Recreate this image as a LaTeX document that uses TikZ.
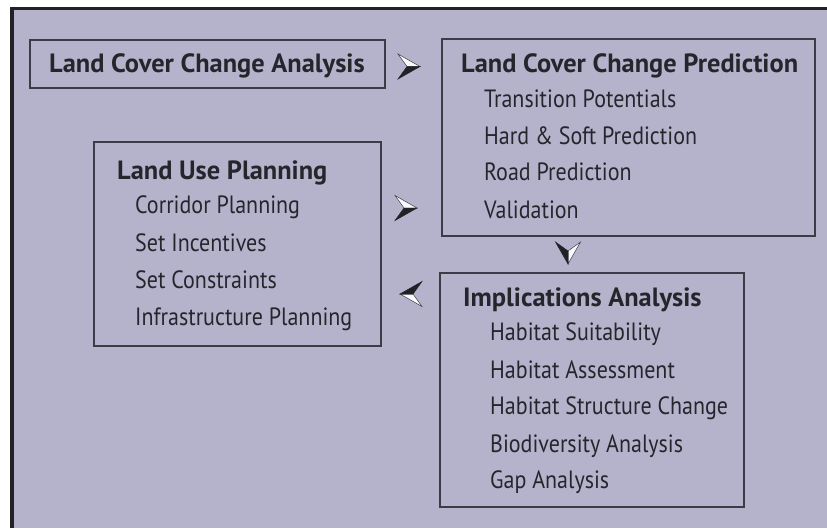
\documentclass[tikz,border=0pt]{standalone}
\usepackage{fontspec}
\setmainfont{PT Sans}
\newfontfamily\itemfont{PT Sans}[FakeStretch=0.88]
\usetikzlibrary{calc}
\definecolor{bg}{HTML}{B5B3CC}
\definecolor{boxline}{HTML}{3C3B46}
\definecolor{frame}{HTML}{222226}
\definecolor{txt}{HTML}{26252C}
\begin{document}
\begin{tikzpicture}[x=1pt,y=-1pt,
  box/.style={draw=boxline, line width=2pt, inner sep=0pt, outer sep=0pt, anchor=north west},
  ttl/.style={anchor=base west, inner sep=0pt, font=\fontsize{26.4}{30}\selectfont\bfseries, text=txt},
  itm/.style={anchor=base west, inner sep=0pt, font=\itemfont\fontsize{25}{28}\selectfont, text=txt},
  arrowhd/.pic={
    \filldraw[fill=white!92!bg, draw=boxline, line width=0.5pt] (11,0) -- (-11,-12.5) -- (-2,0) -- cycle;
    \filldraw[fill=frame, draw=frame, line width=0.5pt] (11,0) -- (-11,12.5) -- (-2,0) -- cycle;
  }]
\useasboundingbox (0,0) rectangle (827,528);
\fill[bg] (12,8.5) rectangle (827,528);
\draw[frame, line width=3.5pt] (12,528) -- (12,8.5) -- (827,8.5);

\node[box, minimum width=355pt, minimum height=48pt] (lcca) at (30,40) {};
\node[box, minimum width=373pt, minimum height=197pt] (lccp) at (442,39) {};
\node[box, minimum width=287pt, minimum height=204pt] (lup) at (94,142) {};
\node[box, minimum width=304pt, minimum height=234pt] (impl) at (440,273) {};

\node[ttl] (t1) at (49,72) {Land Cover Change Analysis};

\node[ttl] (t2) at (461,72) {Land Cover Change Prediction};
\node[itm] (p1) at (484,107) {Transition Potentials};
\node[itm] (p2) at (484,144) {Hard \& Soft Prediction};
\node[itm] (p3) at (484,180) {Road Prediction};
\node[itm] (p4) at (484,218) {Validation};

\node[ttl] (t3) at (117,179) {Land Use Planning};
\node[itm] (u1) at (135,213) {Corridor Planning};
\node[itm] (u2) at (135,251) {Set Incentives};
\node[itm] (u3) at (135,288) {Set Constraints};
\node[itm] (u4) at (135,325) {Infrastructure Planning};

\node[ttl] (t4) at (463,306) {Implications Analysis};
\node[itm] (i1) at (490,340) {Habitat Suitability};
\node[itm] (i2) at (490,378) {Habitat Assessment};
\node[itm] (i3) at (490,414) {Habitat Structure Change};
\node[itm] (i4) at (490,452) {Biodiversity Analysis};
\node[itm] (i5) at (490,488) {Gap Analysis};

\pic at ($(lcca.east)+(24,2.5)$) {arrowhd};
\pic at ($(lup.north east)+(25,66)$) {arrowhd};
\pic[rotate=-90] at ($(lccp.south west)+(126,17)$) {arrowhd};
\pic[rotate=180] at ($(impl.north west)+(-29,21)$) {arrowhd};
\end{tikzpicture}
\end{document}
